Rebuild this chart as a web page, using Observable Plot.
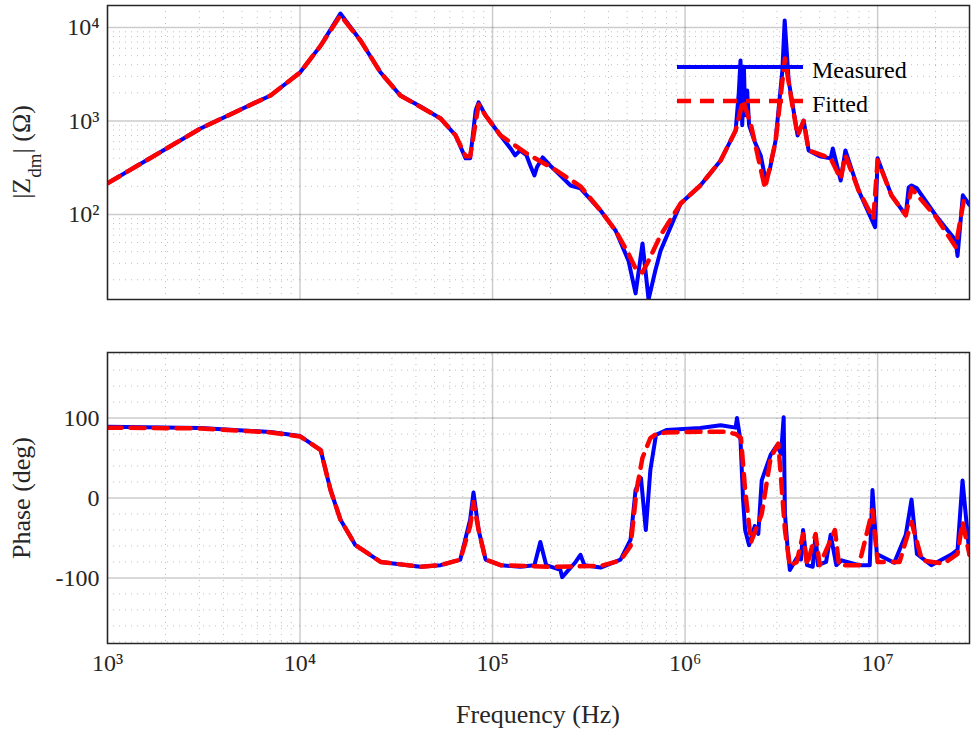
<!DOCTYPE html>
<html><head><meta charset="utf-8">
<script src="https://cdn.jsdelivr.net/npm/d3@7"></script>
<script src="https://cdn.jsdelivr.net/npm/@observablehq/plot@0.6"></script>
<style>
body{margin:0;background:#fff;overflow:hidden;font-family:"Liberation Serif",serif}
#chart svg{display:block}
</style></head><body><div id="chart"></div>
<script>
// measured |Z| (Hz, ohm)
const magMeasF = [1e3,3040,7030,1e4,12800,16200,20600,26200,33200,42200,53700,64300,72400,76500,81700,84600,92000,110000,124000,131000,139000,150000,157000,165000,170000,182000,200000,212000,254000,286000,364000,436000,508000,553000,601000,646000,700000,746000,948000,1.2e6,1.53e6,1.83e6,1.9e6,1.94e6,1.98e6,2.02e6,2.05e6,2.1e6,2.15e6,2.3e6,2.47e6,2.62e6,2.75e6,2.95e6,3.2e6,3.29e6,3.45e6,3.84e6,4.13e6,4.38e6,5.0e6,5.7e6,5.85e6,6.43e6,6.8e6,7.96e6,9.7e6,1.0e7,1.18e7,1.4e7,1.45e7,1.5e7,1.6e7,2.0e7,2.54e7,2.6e7,2.77e7,3.0e7];
const magMeasV = [215,832,1875,3300,6400,14100,7260,3300,1875,1430,1065,700,398,398,1295,1580,1145,700,508,428,484,430,334,261,320,407,330,295,204,190,110,67,32,14.3,49,12.3,25,41,131,204,378,790,2000,4440,900,3800,1150,2120,900,600,428,231,300,617,3470,11900,2710,700,1010,484,420,398,508,231,484,181,73,398,160,98,195,204,190,98,53,36,160,126];
// fitted |Z|
const magFitF = [1e3,3040,7030,1e4,12800,16200,20600,26200,33200,53700,64300,72400,76500,84600,92000,110000,150000,212000,286000,364000,436000,508000,560000,600000,646000,746000,948000,1.2e6,1.53e6,1.83e6,2.0e6,2.2e6,2.6e6,2.95e6,3.3e6,3.6e6,3.84e6,4.13e6,4.38e6,5.7e6,6.43e6,6.8e6,7.96e6,9.5e6,1.0e7,1.18e7,1.4e7,1.5e7,2.0e7,2.54e7,2.8e7,3.0e7];
const magFitV = [215,832,1875,3300,6400,13500,7260,3300,1875,1065,700,420,420,1500,1145,700,450,300,200,110,67,38,25,24,32,60,131,204,378,790,1660,900,190,600,4660,1500,700,1000,484,398,240,430,181,90,380,160,98,190,95,45,140,126];
// measured phase (Hz, deg)
const phMeasF = [1e3,3040,7030,1e4,12800,14400,16200,19400,26200,42200,53700,68000,76500,79600,84600,92000,110000,139000,165000,177000,190000,225000,230000,270000,286000,300000,364000,462000,521000,553000,590000,625000,660000,706000,800000,1.2e6,1.53e6,1.83e6,1.86e6,1.94e6,2e6,2.05e6,2.15e6,2.3e6,2.4e6,2.5e6,2.78e6,3e6,3.15e6,3.25e6,3.3e6,3.4e6,3.5e6,3.8e6,4e6,4.1e6,4.3e6,4.6e6,4.76e6,4.9e6,5.4e6,5.7e6,6.1e6,6.5e6,8e6,9.1e6,9.4e6,9.9e6,1.22e7,1.4e7,1.5e7,1.6e7,1.9e7,2.4e7,2.6e7,2.76e7,3.0e7];
const phMeasV = [89,87.5,82.5,77.5,60,10,-27,-59,-80,-86,-84,-77,-27,7,-40,-77,-84,-86,-84,-55,-84,-90,-99,-80,-71,-84,-87,-77,-52,10,25,-40,35,79,85,87.5,91,88,100,72,-2,-40,-59,-35,-45,22,54,66,55,101,-20,-60,-90,-75,-77,-40,-84,-86,-46,-84,-80,-46,-84,-78,-84,-84,10,-70,-81,-46,-2,-70,-84,-71,-65,22,-71];
// fitted phase
const phFitF = [1e3,3040,7030,1e4,12800,14400,16200,19400,26200,42200,53700,68000,76500,79600,84600,92000,110000,200000,364000,462000,521000,560000,600000,660000,706000,800000,1.2e6,1.6e6,1.83e6,1.95e6,2.05e6,2.2e6,2.5e6,2.78e6,3.05e6,3.3e6,3.5e6,3.8e6,4.1e6,4.3e6,4.76e6,5e6,6e6,6.3e6,8e6,9.4e6,1e7,1.3e7,1.5e7,1.7e7,2.2e7,2.6e7,2.76e7,3.0e7];
const phFitV = [88,87,82,77,60,10,-27,-59,-80,-86,-84,-77,-35,-5,-40,-77,-84,-86,-85,-78,-60,10,50,75,80,82,83,83,80,75,10,-55,-20,50,68,-40,-85,-80,-45,-84,-45,-84,-40,-84,-84,-15,-80,-80,-30,-78,-82,-70,-30,-71];

const FONT = "Liberation Serif, Times New Roman, serif";
const W = 979, ML = 107, MR = 10;
const xDomain = [1e3, 3e7];
const xMajor = [1e3, 1e4, 1e5, 1e6, 1e7];
const xMinor = [];
for (let e = 3; e <= 7; e++) for (let k = 2; k <= 9; k++) { const v = k * 10 ** e; if (v <= 3e7) xMinor.push(v); }
const sup = {"0":"⁰","1":"¹","2":"²","3":"³","4":"⁴","5":"⁵","6":"⁶","7":"⁷","8":"⁸","9":"⁹"};
const pow10 = d => "10" + String(Math.round(Math.log10(d))).split("").map(c => sup[c]).join("");
const toRows = (f, v) => f.map((x, i) => ({f: x, v: v[i]}));

const gridMajor = {stroke: "#000", strokeOpacity: 0.2, strokeWidth: 1.5};
const gridMinor = {stroke: "#000", strokeOpacity: 0.25, strokeDasharray: "1,5"};
const blue = "#0000ff", red = "#ff0000";
const measStyle = {stroke: blue, strokeWidth: 4, clip: true};
const fitStyle = {stroke: red, strokeWidth: 4.5, strokeDasharray: "14,9", clip: true};

const yMinorTop = [];
for (let e = 1; e <= 4; e++) for (let k = 2; k <= 9; k++) { const v = k * 10 ** e; if (v > 12.3 && v < 17200) yMinorTop.push(v); }

const magPlot = Plot.plot({
  width: W, height: 305, marginLeft: ML, marginRight: MR, marginTop: 5, marginBottom: 6,
  style: {fontFamily: FONT, fontSize: "24px", color: "#262626", background: "#fff"},
  x: {type: "log", domain: xDomain, axis: null},
  y: {type: "log", domain: [12.3, 17200], axis: null},
  marks: [
    Plot.ruleX(xMinor, gridMinor), Plot.ruleY(yMinorTop, gridMinor),
    Plot.ruleX(xMajor, gridMajor), Plot.ruleY([100, 1000, 10000], gridMajor),
    Plot.axisY([100, 1000, 10000], {tickFormat: pow10, tickSize: 0, tickPadding: 8, label: null, fontSize: 24}),
    Plot.line(toRows(magMeasF, magMeasV), {x: "f", y: "v", ...measStyle}),
    Plot.line(toRows(magFitF, magFitV), {x: "f", y: "v", ...fitStyle}),
    Plot.frame({stroke: "#262626", strokeWidth: 1.5})
  ]
});

const yMinorBot = d3.range(-180, 181, 20).filter(v => v % 100 !== 0);
const phPlot = Plot.plot({
  width: W, height: 435, marginLeft: ML, marginRight: MR, marginTop: 47, marginBottom: 97,
  style: {fontFamily: FONT, fontSize: "24px", color: "#262626", background: "#fff"},
  x: {type: "log", domain: xDomain, axis: null},
  y: {domain: [-182, 182], axis: null},
  marks: [
    Plot.ruleX(xMinor, gridMinor), Plot.ruleY(yMinorBot, gridMinor),
    Plot.ruleX(xMajor, gridMajor), Plot.ruleY([-100, 0, 100], gridMajor),
    Plot.axisY([-100, 0, 100], {tickFormat: d => String(d), tickSize: 0, tickPadding: 8, label: null, fontSize: 24}),
    Plot.axisX(xMajor, {tickFormat: pow10, tickSize: 0, tickPadding: 10, label: null, fontSize: 24}),
    Plot.line(toRows(phMeasF, phMeasV), {x: "f", y: "v", ...measStyle}),
    Plot.line(toRows(phFitF, phFitV), {x: "f", y: "v", ...fitStyle}),
    Plot.frame({stroke: "#262626", strokeWidth: 1.5})
  ]
});

const host = document.getElementById("chart");
host.append(magPlot, phPlot);

// axis titles and legend
const t = d3.select(magPlot);
const lab = t.append("text").attr("transform", "translate(30,152) rotate(-90)")
  .attr("text-anchor", "middle").attr("font-family", FONT).attr("font-size", 26).attr("fill", "#262626");
lab.append("tspan").text("|Z");
lab.append("tspan").attr("baseline-shift", "sub").attr("font-size", 19).text("dm");
lab.append("tspan").text("| (Ω)");
const lg = t.append("g").attr("font-family", FONT).attr("font-size", 24).attr("fill", "#000").attr("text-anchor", "start");
lg.append("line").attr("x1", 677).attr("x2", 803).attr("y1", 67).attr("y2", 67).attr("stroke", blue).attr("stroke-width", 4);
lg.append("line").attr("x1", 677).attr("x2", 803).attr("y1", 101).attr("y2", 101).attr("stroke", red).attr("stroke-width", 4.5).attr("stroke-dasharray", "14,9");
lg.append("text").attr("x", 812).attr("y", 78).text("Measured");
lg.append("text").attr("x", 812).attr("y", 112).text("Fitted");

const b = d3.select(phPlot);
b.append("text").attr("transform", "translate(30,193) rotate(-90)").attr("text-anchor", "middle")
  .attr("font-family", FONT).attr("font-size", 26).attr("fill", "#262626").text("Phase (deg)");
b.append("text").attr("x", 538).attr("y", 418).attr("text-anchor", "middle")
  .attr("font-family", FONT).attr("font-size", 26).attr("fill", "#262626").text("Frequency (Hz)");
</script></body></html>
